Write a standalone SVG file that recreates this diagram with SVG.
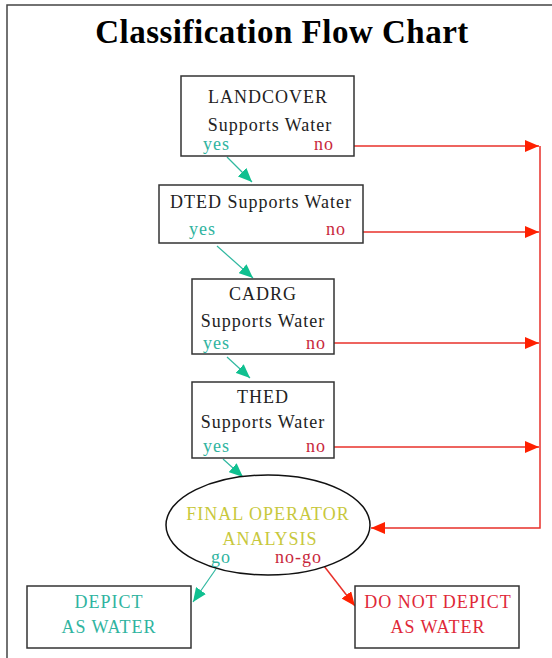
<svg xmlns="http://www.w3.org/2000/svg" width="552" height="658" viewBox="0 0 552 658">
<defs>
<style>
.box{fill:#fff;stroke:#333;stroke-width:1.5}
.t{font-size:18px;letter-spacing:1px}
.c{text-anchor:middle}
.blk{fill:#222}
.yes{fill:#30b4a0}
.no{fill:#c8283c}
.yel{fill:#c8c83c}
.grn{stroke:#30b8a0;stroke-width:1.2;fill:none;marker-end:url(#ga)}
.red{stroke:#e8302a;stroke-width:1.5;fill:none;marker-end:url(#ra)}
</style>
<marker id="ga" markerUnits="userSpaceOnUse" viewBox="0 0 14 12" refX="14" refY="6" markerWidth="14" markerHeight="12" orient="auto"><path d="M0,0 L14,6 L0,12 z" fill="#10c090"/></marker>
<marker id="ra" markerUnits="userSpaceOnUse" viewBox="0 0 14 12" refX="14" refY="6" markerWidth="14" markerHeight="12" orient="auto"><path d="M0,0 L14,6 L0,12 z" fill="#ff2000"/></marker>
</defs>
<rect width="552" height="658" fill="#fff"/>
<path d="M7,658 V5 H552" fill="none" stroke="#444" stroke-width="1.5"/>
<g font-family="'Liberation Serif', 'Times New Roman', serif">
<text x="282" y="43" class="c" font-weight="bold" font-size="33" letter-spacing="0.5" fill="#000">Classification Flow Chart</text>

<g id="connectors">
<path class="grn" d="M227,157 L252,182"/>
<path class="grn" d="M217,246 L253,278"/>
<path class="grn" d="M227,357 L250,378"/>
<path class="grn" d="M223,459 L243,477"/>
<path class="grn" d="M218,566 L193,602"/>
<path class="red" d="M324,566 L355,606"/>
<path class="red" d="M354,146 H539"/>
<path class="red" d="M363,232 H539"/>
<path class="red" d="M334,343 H539"/>
<path class="red" d="M334,447 H539"/>
<path class="red" d="M540,146 V528 H371"/>
</g>

<g id="landcover">
<rect class="box" x="181" y="76" width="173" height="80"/>
<text class="t c blk" x="268" y="103">LANDCOVER</text>
<text class="t c blk" x="270" y="131">Supports Water</text>
<text class="t yes" x="203" y="150">yes</text>
<text class="t no" x="314" y="150">no</text>
</g>

<g id="dted">
<rect class="box" x="159" y="185" width="204" height="58"/>
<text class="t c blk" x="261" y="208">DTED Supports Water</text>
<text class="t yes" x="189" y="235">yes</text>
<text class="t no" x="326" y="235">no</text>
</g>

<g id="cadrg">
<rect class="box" x="192" y="279" width="142" height="75"/>
<text class="t c blk" x="263" y="300">CADRG</text>
<text class="t c blk" x="263" y="327">Supports Water</text>
<text class="t yes" x="203" y="349">yes</text>
<text class="t no" x="306" y="349">no</text>
</g>

<g id="thed">
<rect class="box" x="192" y="382" width="142" height="76"/>
<text class="t c blk" x="263" y="403">THED</text>
<text class="t c blk" x="263" y="428">Supports Water</text>
<text class="t yes" x="203" y="452">yes</text>
<text class="t no" x="306" y="452">no</text>
</g>

<g id="final">
<ellipse cx="268" cy="525" rx="102" ry="50" fill="#fff" stroke="#111" stroke-width="1.5"/>
<text class="t c yel" x="268" y="520">FINAL OPERATOR</text>
<text class="t c yel" x="270" y="545">ANALYSIS</text>
<text class="t yes" x="211" y="563">go</text>
<text class="t no" x="275" y="563">no-go</text>
</g>

<g id="depict">
<rect class="box" x="27" y="586" width="164" height="62"/>
<text class="t c yes" x="109" y="608">DEPICT</text>
<text class="t c yes" x="109" y="633">AS WATER</text>
</g>

<g id="donotdepict">
<rect class="box" x="355" y="586" width="164" height="62"/>
<text class="t c" x="438" y="608" fill="#e02838">DO NOT DEPICT</text>
<text class="t c" x="438" y="633" fill="#e02838">AS WATER</text>
</g>
</g>
</svg>
